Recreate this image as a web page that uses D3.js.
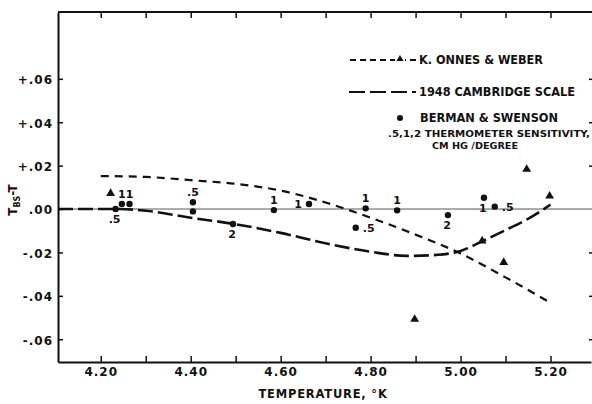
<!DOCTYPE HTML>
<html>
<head>
<meta charset="utf-8">
<title>T_BS - T vs temperature</title>
<script src="https://d3js.org/d3.v7.min.js"></script>
<style>
  body { margin: 0; background: #fff; }
  svg { display: block; }
  text { font-family: "DejaVu Sans", sans-serif; font-weight: bold; fill: #111; }
  .axis path, .axis line { stroke: #111; }
  .axis path { stroke-width: 2; }
  .axis line { stroke-width: 1.5; }
</style>
</head>
<body>
<svg id="chart" width="592" height="404"></svg>
<script>
// K. Onnes & Weber points (triangles)
const onnesT   = [4.222, 4.898, 5.048, 5.096, 5.147, 5.198];
const onnesDev = [0.0072, -0.0508, -0.0147, -0.0246, 0.0183, 0.0060];

// K. Onnes & Weber curve (short dashes)
const onnesCurveT   = [4.20, 4.30, 4.40, 4.50, 4.60, 4.70, 4.80, 4.90, 5.00, 5.10, 5.20];
const onnesCurveDev = [0.0152, 0.0148, 0.0133, 0.0116, 0.0085, 0.0030, -0.0040, -0.0118, -0.0205, -0.0315, -0.0432];

// 1948 Cambridge scale (long dashes)
const cambT   = [4.105, 4.20, 4.24, 4.30, 4.40, 4.50, 4.60, 4.70, 4.80, 4.88, 4.95, 5.00, 5.05, 5.10, 5.15, 5.20];
const cambDev = [0, 0, 0, -0.0008, -0.0040, -0.0070, -0.0110, -0.0158, -0.0197, -0.0216, -0.0211, -0.0193, -0.0147, -0.0097, -0.0045, 0.0020];

// Berman & Swenson points, with thermometer sensitivity labels
const bsT    = [4.233, 4.247, 4.264, 4.405, 4.405, 4.494, 4.585, 4.663, 4.767, 4.789, 4.859, 4.972, 5.052, 5.076];
const bsDev  = [0.0000, 0.0023, 0.0023, 0.0031, -0.0011, -0.0069, -0.0005, 0.0023, -0.0086, 0.0003, -0.0006, -0.0028, 0.0052, 0.0011];
const bsSens = [".5", "1", "1", ".5", "", "2", "1", "1", ".5", "1", "1", "2", "1", ".5"];
const bsSide = ["below", "above", "above", "above", "", "below", "above", "left", "right", "above", "above", "below", "below", "right"];

// ticks
const xTicks      = [4.2, 4.3, 4.4, 4.5, 4.6, 4.7, 4.8, 4.9, 5.0, 5.1, 5.2];
const xTickLabels = ["4.20", "", "4.40", "", "4.60", "", "4.80", "", "5.00", "", "5.20"];
const yTicks      = [0.06, 0.04, 0.02, 0, -0.02, -0.04, -0.06];
const yTickLabels = ["+.06", "+.04", "+.02", ".00", "-.02", "-.04", "-.06"];

const svg = d3.select("#chart");

const x = d3.scaleLinear().domain([4.105, 5.29]).range([58, 591]);
const y = d3.scaleLinear().domain([-0.0705, 0.0908]).range([362, 12]);

// zero reference line
svg.append("line")
    .attr("x1", x(4.105)).attr("x2", 592)
    .attr("y1", y(0)).attr("y2", y(0))
    .attr("stroke", "#555").attr("stroke-width", 1);

// axes
svg.append("g").attr("class", "axis")
    .attr("transform", "translate(0," + y.range()[0] + ")")
    .call(d3.axisBottom(x).tickValues(xTicks).tickSizeInner(-6).tickSizeOuter(0).tickPadding(5)
        .tickFormat((d, i) => xTickLabels[i]))
    .call(g => g.selectAll("text").attr("font-size", 12).attr("letter-spacing", 1));

svg.append("g").attr("class", "axis")
    .attr("transform", "translate(0," + y.range()[1] + ")")
    .call(d3.axisBottom(x).tickValues(xTicks).tickSize(6).tickFormat(""))
    .call(g => g.select(".domain").attr("d", "M" + x.range()[0] + ",0H592"));

svg.append("g").attr("class", "axis")
    .attr("transform", "translate(" + x.range()[0] + ",0)")
    .call(d3.axisLeft(y).tickValues(yTicks).tickSizeInner(-5).tickSizeOuter(0).tickPadding(5)
        .tickFormat((d, i) => yTickLabels[i]))
    .call(g => g.selectAll("text").attr("font-size", 12).attr("letter-spacing", 1).attr("dy", "0.4em"));

svg.append("g").attr("class", "axis")
    .attr("transform", "translate(596,0)")
    .call(d3.axisLeft(y).tickValues(yTicks.filter(d => d !== 0)).tickSize(7).tickFormat(""))
    .call(g => g.select(".domain").remove());

// curves
const line = d3.line()
    .x(d => x(d[0]))
    .y(d => y(d[1]))
    .curve(d3.curveMonotoneX);

svg.append("path")
    .datum(d3.zip(cambT, cambDev))
    .attr("fill", "none").attr("stroke", "#111").attr("stroke-width", 2.6)
    .attr("stroke-dasharray", "15,5")
    .attr("d", line);

svg.append("path")
    .datum(d3.zip(onnesCurveT, onnesCurveDev))
    .attr("fill", "none").attr("stroke", "#111").attr("stroke-width", 2.2)
    .attr("stroke-dasharray", "8,6")
    .attr("d", line);

// triangles
const tri = d3.symbol().type(d3.symbolTriangle).size(34);
svg.append("g").selectAll("path")
    .data(d3.zip(onnesT, onnesDev))
    .join("path")
    .attr("transform", d => "translate(" + x(d[0]) + "," + y(d[1]) + ")")
    .attr("d", tri)
    .attr("fill", "#111");

// Berman & Swenson dots
const pts = bsT.map((t, i) => ({ t: t, v: bsDev[i], s: bsSens[i], side: bsSide[i] }));
svg.append("g").selectAll("circle")
    .data(pts)
    .join("circle")
    .attr("cx", d => x(d.t)).attr("cy", d => y(d.v))
    .attr("r", 3.2).attr("fill", "#111");

const off = { above: [0, -6], below: [-1, 14], left: [-7, 4], right: [7, 4] };
svg.append("g").selectAll("text")
    .data(pts.filter(d => d.s))
    .join("text")
    .attr("x", d => x(d.t) + off[d.side][0])
    .attr("y", d => y(d.v) + off[d.side][1])
    .attr("text-anchor", d => d.side === "left" ? "end" : d.side === "right" ? "start" : "middle")
    .attr("font-size", 11)
    .text(d => d.s);

// legend
const lg = svg.append("g");
lg.append("line").attr("x1", 350).attr("x2", 418).attr("y1", 60).attr("y2", 60)
    .attr("stroke", "#111").attr("stroke-width", 1.8).attr("stroke-dasharray", "6,4");
lg.append("rect").attr("x", 395).attr("y", 56).attr("width", 10).attr("height", 8).attr("fill", "#fff");
lg.append("path").attr("transform", "translate(400,59)").attr("d", d3.symbol().type(d3.symbolTriangle).size(22)).attr("fill", "#111");
lg.append("text").attr("x", 419).attr("y", 64).attr("font-size", 12)
    .attr("textLength", 124).attr("lengthAdjust", "spacingAndGlyphs").text("K. ONNES & WEBER");

lg.append("line").attr("x1", 349).attr("x2", 416).attr("y1", 92).attr("y2", 92)
    .attr("stroke", "#111").attr("stroke-width", 2).attr("stroke-dasharray", "16,5");
lg.append("text").attr("x", 419).attr("y", 96).attr("font-size", 12)
    .attr("textLength", 156).attr("lengthAdjust", "spacingAndGlyphs").text("1948 CAMBRIDGE SCALE");

lg.append("circle").attr("cx", 400).attr("cy", 118).attr("r", 3).attr("fill", "#111");
lg.append("text").attr("x", 420).attr("y", 122).attr("font-size", 12)
    .attr("textLength", 138).attr("lengthAdjust", "spacingAndGlyphs").text("BERMAN & SWENSON");
lg.append("text").attr("x", 388).attr("y", 137).attr("font-size", 9.5)
    .attr("textLength", 202).attr("lengthAdjust", "spacingAndGlyphs")
    .text(".5,1,2 THERMOMETER SENSITIVITY,");
lg.append("text").attr("x", 432).attr("y", 149).attr("font-size", 9.5)
    .attr("textLength", 86).attr("lengthAdjust", "spacingAndGlyphs")
    .text("CM HG /DEGREE");

// axis titles
svg.append("text").attr("x", 323).attr("y", 398).attr("text-anchor", "middle")
    .attr("font-size", 11.5).attr("letter-spacing", 0.8).text("TEMPERATURE, °K");

const yt = svg.append("text").attr("transform", "translate(17,200) rotate(-90)")
    .attr("text-anchor", "middle").attr("font-size", 12);
yt.append("tspan").text("T");
yt.append("tspan").attr("font-size", 8).attr("dy", 3).text("BS");
yt.append("tspan").attr("dy", -3).text("-T");
</script>
</body>
</html>
